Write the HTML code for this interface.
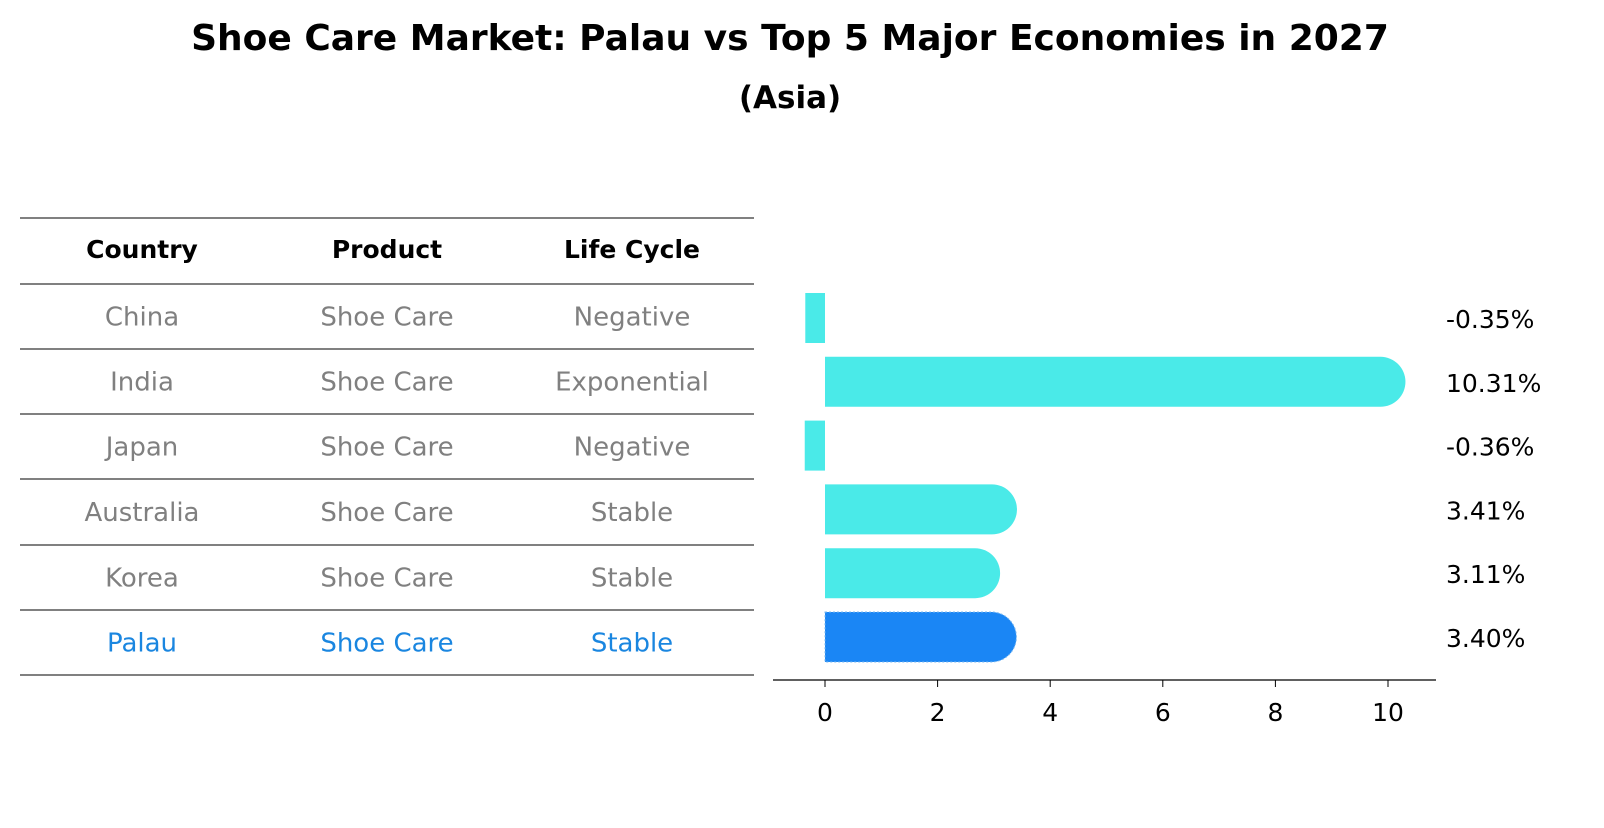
<!DOCTYPE html>
<html><head><meta charset="utf-8"><style>
body{margin:0;background:#fff;font-family:"Liberation Sans","DejaVu Sans",sans-serif;}
svg text{font-family:"DejaVu Sans","Liberation Sans",sans-serif;}
</style></head><body>
<svg id="chart" width="1604" height="823" xmlns="http://www.w3.org/2000/svg">
<text x="790" y="50" text-anchor="middle" font-size="36" font-weight="bold">Shoe Care Market: Palau vs Top 5 Major Economies in 2027</text>
<text x="790" y="108" text-anchor="middle" font-size="31" font-weight="bold">(Asia)</text>
<g id="table"></g>
<g id="bars"></g>
</svg>
<script>
const countries=["China","India","Japan","Australia","Korea","Palau"];
const products=["Shoe Care","Shoe Care","Shoe Care","Shoe Care","Shoe Care","Shoe Care"];
const lifeCycles=["Negative","Exponential","Negative","Stable","Stable","Stable"];
const growth=[-0.35,10.31,-0.36,3.41,3.11,3.40];
const growthLabels=["-0.35%","10.31%","-0.36%","3.41%","3.11%","3.40%"];
const xTicks=[0,2,4,6,8,10];

const NS="http://www.w3.org/2000/svg";
function mk(tag,attrs,parent){const e=document.createElementNS(NS,tag);for(const k in attrs)e.setAttribute(k,attrs[k]);parent.appendChild(e);return e;}
const tbl=document.getElementById('table');
const lineYs=[218,284,349,414,479,545,610,675];
lineYs.forEach((y,i)=>{const l=mk('line',{x1:20,x2:754,y1:y,y2:y,stroke:'#000','stroke-width':1},tbl);

});
const colX=[142,387,632];
["Country","Product","Life Cycle"].forEach((h,i)=>{const t=mk('text',{x:colX[i],y:258,'text-anchor':'middle','font-size':25,'font-weight':'bold'},tbl);t.textContent=h;

});
countries.forEach((c,r)=>{const y=(lineYs[r+1]+lineYs[r+2])/2+9;const col=c==="Palau"?"#1a86e0":"#808080";
[c,products[r],lifeCycles[r]].forEach((v,i)=>{const t=mk('text',{x:colX[i],y:y,'text-anchor':'middle','font-size':26,fill:col},tbl);t.textContent=v;

});});

const g=document.getElementById('bars');
const x0=825,pxPer=(1388-825)/10;
const X=v=>x0+v*pxPer;
const rowY=i=>318+i*63.8;
const bh=50;
growth.forEach((v,i)=>{const cy=rowY(i);const col=countries[i]==="Palau"?"#1a86f5":"#4aeae8";
let el;
if(v>=0){const x1=X(v),r=bh/2;const xs=Math.max(x0,x1-r);
el=mk('path',{d:`M${x0},${cy-r} L${xs},${cy-r} A${r},${r} 0 0 1 ${xs},${cy+r} L${x0},${cy+r} Z`,fill:col},g);
if(countries[i]==="Palau"){el.setAttribute('stroke','#7ab8f0');el.setAttribute('stroke-dasharray','2,2');}}
else{el=mk('rect',{x:X(v),y:cy-bh/2,width:x0-X(v),height:bh,fill:col},g);}


const t=mk('text',{x:1446,y:cy+10,'font-size':25},g);t.textContent=growthLabels[i];

});
const ax=mk('line',{x1:773,x2:1436,y1:680,y2:680,stroke:'#000','stroke-width':1.3},g);


xTicks.forEach(v=>{const tk=mk('line',{x1:X(v),x2:X(v),y1:680,y2:687,stroke:'#000'},g);


const t=mk('text',{x:X(v),y:721,'text-anchor':'middle','font-size':25},g);t.textContent=v;

});
</script>
</body></html>
